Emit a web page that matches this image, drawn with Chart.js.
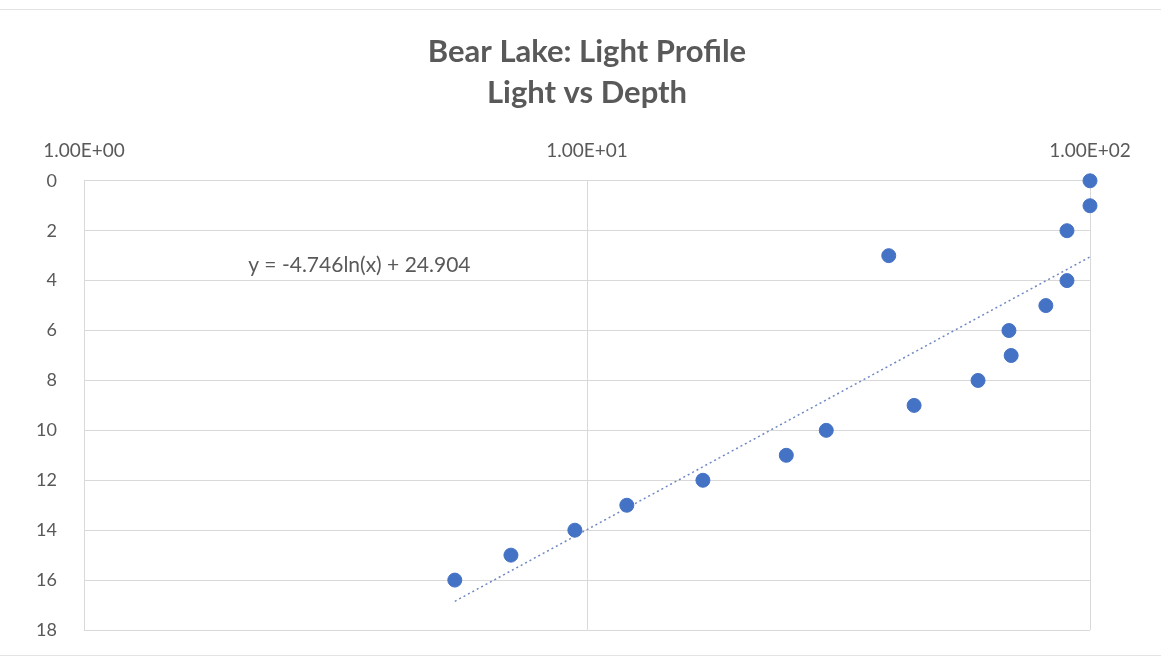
<!DOCTYPE html>
<html>
<head>
<meta charset="utf-8">
<script src="https://cdn.jsdelivr.net/npm/chart.js@4/dist/chart.umd.min.js"></script>
<style>
  html, body { margin: 0; padding: 0; background: #fff; }
  #wrap { position: relative; width: 1161px; height: 660px; }
  #frame { position: absolute; left: 0; top: 9px; width: 1161px; height: 647px;
           border-top: 1px solid #e3e3e3; border-bottom: 1px solid #e3e3e3; box-sizing: border-box; pointer-events: none; }
</style>
</head>
<body>
<div id="wrap">
  <canvas id="chart" width="1161" height="660"></canvas>
  <div id="frame"></div>
</div>
<script>
// light readings (x, log scale) and depth (y)
const light = [100, 100, 90, 39.8, 90, 81.7, 69, 69.7, 59.9, 44.7, 29.9, 24.9, 17.0, 12.0, 9.46, 7.06, 5.46];
const depth = [0, 1, 2, 3, 4, 5, 6, 7, 8, 9, 10, 11, 12, 13, 14, 15, 16];

// log trendline ends as drawn
const trendLight = [5.46, 100];
const trendDepth = [16.85, 3.05];
const trendLabel = "y = -4.746ln(x) + 24.904";

const titleLines = ['Bear Lake: Light Profile', 'Light vs Depth'];
const xTicks = [1, 10, 100];

const grey = '#595959';
const gridGrey = '#d9d9d9';
const fontFam = 'Lato, "Open Sans", sans-serif';

// title centred over the plot area, equation label next to the trendline
const textBits = {
  id: 'textBits',
  afterDraw(chart) {
    const { ctx, scales, chartArea } = chart;
    ctx.save();
    ctx.fillStyle = grey;
    ctx.textBaseline = 'middle';
    ctx.textAlign = 'center';
    ctx.font = 'bold 31px ' + fontFam;
    const cx = (chartArea.left + chartArea.right) / 2;
    ctx.fillText(titleLines[0], cx, 52);
    ctx.fillText(titleLines[1], cx, 93);
    ctx.textAlign = 'left';
    ctx.font = '21px ' + fontFam;
    ctx.fillText(trendLabel, scales.x.getPixelForValue(2.12), scales.y.getPixelForValue(3.4));
    ctx.restore();
  }
};

new Chart(document.getElementById('chart'), {
  type: 'scatter',
  data: {
    datasets: [
      {
        label: 'Light',
        data: light.map((v, i) => ({ x: v, y: depth[i] })),
        backgroundColor: '#4472C4',
        borderColor: '#4472C4',
        pointRadius: 7,
        pointHoverRadius: 7,
        clip: false,
        order: 1
      },
      {
        label: 'Trend',
        type: 'line',
        data: trendLight.map((v, i) => ({ x: v, y: trendDepth[i] })),
        borderColor: '#6f88c4',
        borderWidth: 1.5,
        borderDash: [2, 3],
        pointRadius: 0,
        fill: false,
        order: 2
      }
    ]
  },
  options: {
    responsive: false,
    animation: false,
    layout: { padding: { top: 120, left: 20, right: 71, bottom: 30 } },
    plugins: {
      legend: { display: false },
      tooltip: { enabled: false },
      title: { display: false }
    },
    scales: {
      x: {
        type: 'logarithmic',
        position: 'top',
        min: 1,
        max: 100,
        afterBuildTicks: s => { s.ticks = xTicks.map(v => ({ value: v, major: true })); },
        ticks: {
          color: grey,
          font: { family: fontFam, size: 19 },
          padding: 19,
          maxRotation: 0,
          autoSkip: false,
          callback: v => Number(v).toExponential(2).toUpperCase().replace(/E([+-])(\d)$/, 'E$10$2')
        },
        grid: { color: gridGrey, drawTicks: false },
        border: { color: gridGrey }
      },
      y: {
        reverse: true,
        min: 0,
        max: 18,
        afterFit: s => { s.width = 64; s.paddingTop = 0; s.paddingBottom = 0; },
        ticks: {
          stepSize: 2,
          color: grey,
          font: { family: fontFam, size: 18 },
          padding: 27
        },
        grid: { color: gridGrey, drawTicks: false },
        border: { color: gridGrey }
      }
    }
  },
  plugins: [textBits]
});
</script>
</body>
</html>
